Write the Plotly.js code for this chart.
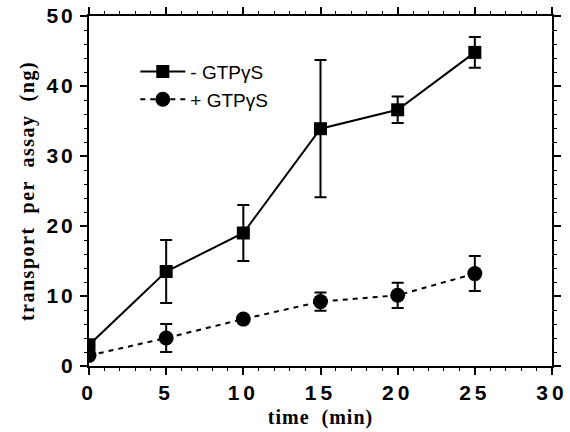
<!DOCTYPE html>
<html><head><meta charset="utf-8">
<script src="https://cdn.plot.ly/plotly-3.0.1.min.js"></script>
<style>html,body{margin:0;padding:0;background:#fff}#c{width:570px;height:432px}
#c .xtick text{letter-spacing:4px}
#c .ytick text{letter-spacing:3px}
#c .xtitle{letter-spacing:1px}
#c .ytitle{letter-spacing:1.5px}
</style>
</head><body><div id="c"></div>
<script>
const time = [0, 5, 10, 15, 20, 25];
const minusGTP = [3.0, 13.5, 19.0, 33.9, 36.6, 44.8];
const minusGTPerr = [0.8, 4.5, 4.0, 9.8, 1.9, 2.2];
const plusGTP = [1.5, 4.0, 6.7, 9.2, 10.1, 13.2];
const plusGTPerr = [0.5, 2.0, 0.4, 1.3, 1.8, 2.5];
const xTicks = [0, 5, 10, 15, 20, 25, 30];
const yTicks = [0, 10, 20, 30, 40, 50];

const traces = [
  {x: time, y: minusGTP, name: '- GTPγS', mode: 'lines+markers',
   line: {color: '#000', width: 2},
   marker: {symbol: 'square', size: 13, color: '#000'},
   error_y: {type: 'data', array: minusGTPerr, visible: true, color: '#000', thickness: 2, width: 6}},
  {x: time, y: plusGTP, name: '+ GTPγS', mode: 'lines+markers',
   line: {color: '#000', width: 2, dash: '5px,5px'},
   marker: {symbol: 'circle', size: 15, color: '#000'},
   error_y: {type: 'data', array: plusGTPerr, visible: true, color: '#000', thickness: 2, width: 6}}
];

const axisCommon = {
  showgrid: false, zeroline: false, showline: true, linecolor: '#000', linewidth: 2,
  mirror: 'ticks', ticks: 'outside', ticklen: 7, tickwidth: 2, tickcolor: '#000',
  tickfont: {family: 'Liberation Sans, Arial, sans-serif', size: 21, color: '#000', weight: 'bold'}
};

const layout = {
  width: 570, height: 432,
  margin: {l: 89, r: 18, t: 16, b: 66},
  paper_bgcolor: '#fff', plot_bgcolor: '#fff',
  showlegend: true,
  legend: {x: 0.1, y: 0.895, xanchor: 'left', yanchor: 'top', bgcolor: 'rgba(0,0,0,0)',
    itemwidth: 45,
    font: {family: 'Liberation Sans, Arial, sans-serif', size: 19, color: '#000'}},
  xaxis: Object.assign({}, axisCommon, {
    range: [0, 30], tickvals: xTicks, ticktext: xTicks.map(String),
    minor: {dtick: 1, ticklen: 3, tickwidth: 1, tickcolor: '#000', ticks: 'outside'},
    title: {text: 'time  (min)', standoff: 7,
      font: {family: 'Liberation Serif, Times New Roman, serif', size: 20, color: '#000', weight: 'bold'}}
  }),
  yaxis: Object.assign({}, axisCommon, {
    range: [0, 50], tickvals: yTicks, ticktext: yTicks.map(String),
    minor: {dtick: 2, ticklen: 3, tickwidth: 1, tickcolor: '#000', ticks: 'outside'},
    title: {text: 'transport  per  assay  (ng)', standoff: 12,
      font: {family: 'Liberation Serif, Times New Roman, serif', size: 20, color: '#000', weight: 'bold'}}
  })
};

Plotly.newPlot('c', traces, layout, {displayModeBar: false, staticPlot: true});
</script>
</body></html>
